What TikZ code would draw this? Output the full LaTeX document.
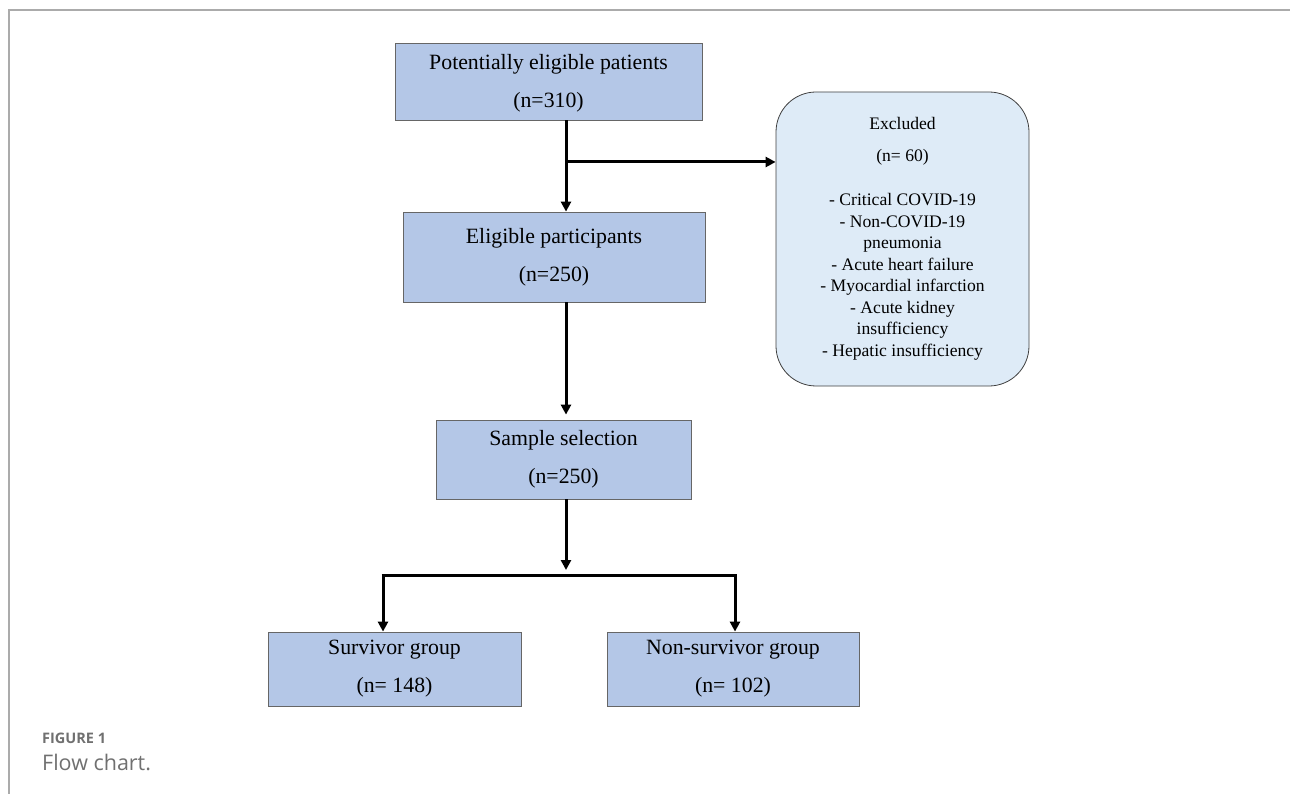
\documentclass[tikz,border=0pt]{standalone}
\usepackage{fontspec}
\setmainfont{Liberation Serif}
\newfontfamily\capfont{Open Sans}
\usepackage{xcolor}
\usetikzlibrary{arrows.meta,positioning}
\definecolor{boxblue}{HTML}{B4C7E7}
\definecolor{exblue}{HTML}{DEEBF7}
\definecolor{framegray}{HTML}{ABABAB}
\definecolor{capgray}{HTML}{707070}

\begin{document}
\begin{tikzpicture}[
    x=1pt, y=-1pt,
    line/.style = {-{Triangle[length=10pt,width=10pt]}, line width=3pt},
    link/.style = {line width=3pt},
    box/.style = {draw=black!60, fill=boxblue, line width=0.8pt, align=center, inner sep=0pt,
                  font=\fontsize{21.8}{38}\selectfont},
    exbox/.style = {draw=black!75, fill=exblue, line width=0.8pt, rounded corners=40pt, align=center,
                  inner sep=0pt, minimum width=253pt, minimum height=294pt,
                  font=\fontsize{17.6}{21.5}\selectfont},
    captext/.style = {anchor=west, inner sep=0pt, text=capgray}
]
    \useasboundingbox (0,0) rectangle (1290,794);

    % Frame
    \draw[framegray, line width=1.6pt] (9,794) -- (9,10) -- (1290,10);

    \node at (548.5,81.5) [box, minimum width=307pt, minimum height=77pt, text depth=2pt] (A) {Potentially eligible patients\\(n=310)};
    \node at (554,257) [box, minimum width=302pt, minimum height=90pt] (B) {Eligible participants\\(n=250)};
    \node at (563.5,459.5) [box, minimum width=255pt, minimum height=79pt] (C) {Sample selection\\(n=250)};
    \node at (394.5,669) [box, minimum width=253pt, minimum height=74pt] (D) {Survivor group\\(n= 148)};
    \node at (733,669) [box, minimum width=252pt, minimum height=74pt] (E) {Non-survivor group\\(n= 102)};

    \node at (902.5,239) [exbox] (X) {Excluded\\[10.5pt](n= 60)\\[22.5pt]- Critical COVID-19\\- Non-COVID-19\\pneumonia\\- Acute heart failure\\- Myocardial infarction\\- Acute kidney\\insufficiency\\- Hepatic insufficiency};

    % Trunk
    \coordinate (T1) at (566,162);
    \coordinate (T2) at (566,575);
    \coordinate (L2) at (383,575);
    \coordinate (R2) at (735,575);

    \draw [line] (A.south -| T1) -- (B.north -| T1);
    \draw [line] (T1) -- (X.west |- T1);
    \draw [line, shorten >=5pt] (B.south -| T1) -- (C.north -| T1);
    \draw [line, shorten >=5pt] (C.south -| T2) -- (T2);

    % Split
    \draw [link] ([xshift=-1.5pt]L2) -- ([xshift=1.5pt]R2);
    \draw [line] (L2) -- (D.north -| L2);
    \draw [line] (R2) -- (E.north -| R2);

    % Caption
    \node at (42,738) [captext, font=\capfont\bfseries\fontsize{14.5}{17}\selectfont] (fig) {FIGURE 1};
    \node at (42,762) [captext, font=\capfont\fontsize{21.5}{25}\selectfont] (title) {Flow chart.};
\end{tikzpicture}
\end{document}
